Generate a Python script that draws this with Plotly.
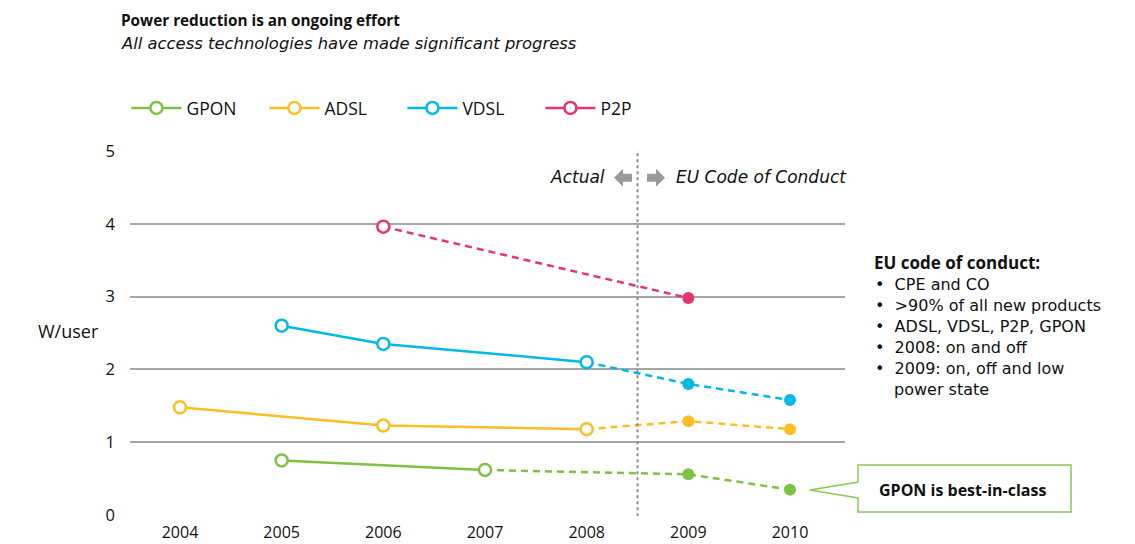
import plotly.graph_objects as go

# ---- data ----
series_names = ["GPON", "ADSL", "VDSL", "P2P"]
colors = {"GPON": "#7DC242", "ADSL": "#FDBE21", "VDSL": "#00B9E6", "P2P": "#E8336F"}

gpon_actual_x = [2005, 2007]
gpon_actual_y = [0.75, 0.62]
gpon_proj_x = [2009, 2010]
gpon_proj_y = [0.56, 0.35]

adsl_actual_x = [2004, 2006, 2008]
adsl_actual_y = [1.48, 1.23, 1.18]
adsl_proj_x = [2009, 2010]
adsl_proj_y = [1.29, 1.18]

vdsl_actual_x = [2005, 2006, 2008]
vdsl_actual_y = [2.6, 2.35, 2.1]
vdsl_proj_x = [2009, 2010]
vdsl_proj_y = [1.8, 1.58]

p2p_actual_x = [2006]
p2p_actual_y = [3.96]
p2p_proj_x = [2009]
p2p_proj_y = [2.98]

x_ticks = [2004, 2005, 2006, 2007, 2008, 2009, 2010]
y_ticks = [0, 1, 2, 3, 4, 5]
divider_year = 2008.5

eu_title = "EU code of conduct:"
eu_bullets = ["CPE and CO", "&gt;90% of all new products", "ADSL, VDSL, P2P, GPON",
              "2008: on and off", "2009: on, off and low"]
eu_continuation = "power state"

data = {
    "GPON": (gpon_actual_x, gpon_actual_y, gpon_proj_x, gpon_proj_y),
    "ADSL": (adsl_actual_x, adsl_actual_y, adsl_proj_x, adsl_proj_y),
    "VDSL": (vdsl_actual_x, vdsl_actual_y, vdsl_proj_x, vdsl_proj_y),
    "P2P": (p2p_actual_x, p2p_actual_y, p2p_proj_x, p2p_proj_y),
}

FONT = "Open Sans"
IFONT = "DejaVu Sans"
TXT = "#111111"
fig = go.Figure()

for name in series_names:
    ax, ay, px, py = data[name]
    c = colors[name]
    fig.add_trace(go.Scatter(x=[ax[-1]] + px, y=[ay[-1]] + py, mode="lines",
                             line=dict(color=c, width=2.5, dash="7px,5px"),
                             showlegend=False, hoverinfo="skip", cliponaxis=False))
for name in series_names:
    ax, ay, px, py = data[name]
    c = colors[name]
    fig.add_trace(go.Scatter(x=ax, y=ay, mode="lines+markers", name=name,
                             line=dict(color=c, width=2.5),
                             marker=dict(symbol="circle", size=12, color="white",
                                         line=dict(color=c, width=2.5)),
                             cliponaxis=False))
    fig.add_trace(go.Scatter(x=px, y=py, mode="markers", showlegend=False,
                             marker=dict(symbol="circle", size=12, color=c),
                             cliponaxis=False))

# reference-pixel -> data / paper helpers for decorations
def dx(p):
    return 2004 + (p - 180) / 101.67

def dy(p):
    return (516 - p) / 73.2

def pxp(p):
    return (p - 130) / 715

def pyp(p):
    return (516 - p) / 366

shapes = [dict(type="line", xref="x", yref="y", x0=divider_year, x1=divider_year,
               y0=5.05, y1=-0.12, line=dict(color="#8C8C8C", width=2, dash="dot"))]

la = [(614, 177), (623, 168), (623, 173), (632, 173), (632, 181), (623, 181), (623, 186)]
ra = [(665, 177), (656, 168), (656, 173), (647, 173), (647, 181), (656, 181), (656, 186)]
for pts in (la, ra):
    path = "M " + " L ".join(f"{dx(a):.4f},{dy(b):.4f}" for a, b in pts) + " Z"
    shapes.append(dict(type="path", xref="x", yref="y", path=path,
                       fillcolor="#9A9A9A", line=dict(width=0)))

cb = [(858, 465), (1071, 465), (1071, 512), (858, 512), (858, 498), (810, 490), (858, 482)]
path = "M " + " L ".join(f"{pxp(a):.4f},{pyp(b):.4f}" for a, b in cb) + " Z"
shapes.append(dict(type="path", xref="paper", yref="paper", path=path,
                   fillcolor="white", line=dict(color="#8CC85A", width=1.5)))

def ann(text, x, y, size, xanchor="left", family=FONT, xref="paper", yref="paper"):
    return dict(text=text, xref=xref, yref=yref, x=x, y=y, xanchor=xanchor, yanchor="middle",
                showarrow=False, align="left", borderpad=0,
                font=dict(size=size, color=TXT, family=family))

annotations = [
    ann("<b>Power reduction is an ongoing effort</b>", pxp(120), pyp(20), 15.3),
    ann("<i>All access technologies have made significant progress</i>", pxp(120), pyp(43), 16.4, family=IFONT),
    ann("W/user", pxp(37), pyp(331), 18),
    ann("<i>Actual</i>", dx(606), dy(176), 17, xanchor="right", family=IFONT, xref="x", yref="y"),
    ann("<i>EU Code of Conduct</i>", dx(675), dy(176), 17, family=IFONT, xref="x", yref="y"),
    ann("<b>" + eu_title + "</b>", pxp(873), pyp(262), 17),
    ann("<b>GPON is best-in-class</b>", pxp(963), pyp(490), 16, xanchor="center"),
]
line_y = [284, 305, 326, 347, 368]
for txt, yy in zip(eu_bullets, line_y):
    annotations.append(ann("•\u00a0\u00a0" + txt, pxp(874), pyp(yy), 16, family=IFONT))
annotations.append(ann(eu_continuation, pxp(893), pyp(389), 16, family=IFONT))

fig.update_layout(
    width=1127, height=536,
    margin=dict(l=122, r=290, t=142, b=28),
    paper_bgcolor="white", plot_bgcolor="white",
    font=dict(family=FONT, size=17, color=TXT),
    shapes=shapes, annotations=annotations,
    legend=dict(orientation="h", x=-0.005, y=pyp(108), xanchor="left", yanchor="middle",
                font=dict(size=17.5), entrywidth=73, entrywidthmode="pixels", itemwidth=50,
                itemclick=False, bgcolor="rgba(0,0,0,0)"),
    hovermode=False,
)
fig.update_xaxes(range=[dx(130), dx(845)], tickvals=x_ticks, ticktext=[str(v) for v in x_ticks],
                 showgrid=False, zeroline=False, showline=False, ticks="", ticklabelstandoff=5,
                 tickfont=dict(size=16), automargin=False, fixedrange=True)
fig.update_yaxes(range=[-0.012, 5.012], tickvals=y_ticks, showgrid=True, gridcolor="#A6A6A6",
                 gridwidth=1.5, zeroline=False, showline=False, ticks="", ticklabelstandoff=14,
                 tickfont=dict(size=16.5), automargin=False, fixedrange=True)

fig.write_html("out.html")
